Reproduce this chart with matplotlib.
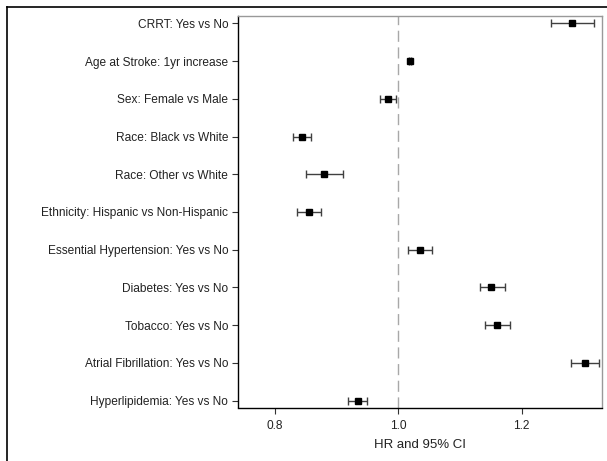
import matplotlib
matplotlib.use("Agg")
import matplotlib.pyplot as plt
from matplotlib.lines import Line2D

plt.rcParams['font.family'] = ['Liberation Sans', 'DejaVu Sans']

labels = [
    "CRRT: Yes vs No",
    "Age at Stroke: 1yr increase",
    "Sex: Female vs Male",
    "Race: Black vs White",
    "Race: Other vs White",
    "Ethnicity: Hispanic vs Non-Hispanic",
    "Essential Hypertension: Yes vs No",
    "Diabetes: Yes vs No",
    "Tobacco: Yes vs No",
    "Atrial Fibrillation: Yes vs No",
    "Hyperlipidemia: Yes vs No",
]
hr = [1.282, 1.019, 0.984, 0.844, 0.879, 0.855, 1.035, 1.151, 1.160, 1.303, 0.934]
lo = [1.247, 1.017, 0.970, 0.830, 0.850, 0.835, 1.015, 1.132, 1.141, 1.281, 0.918]
hi = [1.318, 1.021, 0.997, 0.858, 0.910, 0.875, 1.054, 1.173, 1.182, 1.325, 0.949]
xticks = [0.8, 1.0, 1.2]
xticklabels = ["0.8", "1.0", "1.2"]

W, H = 607, 461
fig = plt.figure(figsize=(W / 100, H / 100), dpi=100)
left, right, top, bottom = 238, 602, 16.5, 407.5
ax = fig.add_axes([left / W, 1 - bottom / H, (right - left) / W, (bottom - top) / H])

y = list(range(len(labels)))
xerr = [[h - l for h, l in zip(hr, lo)], [u - h for h, u in zip(hr, hi)]]
ax.axvline(1.0, color="#a8a8a8", lw=1.0, ls=(0, (8, 4)), zorder=1)
ax.errorbar(hr, y, xerr=xerr, fmt="s", color="black", ms=4.5,
            ecolor="#404040", elinewidth=1.0, capsize=3.0, capthick=1.0, zorder=3)

ax.set_xlim(0.74, 1.3305)
ax.set_ylim(len(labels) - 1 + 0.18, -0.18)
ax.set_yticks(y)
ax.set_yticklabels(labels)
ax.set_xticks(xticks)
ax.set_xticklabels(xticklabels)
ax.tick_params(axis="both", labelsize=8.6, length=4, width=0.8, color="#333333", labelcolor="#222222")
ax.tick_params(axis="y", pad=3)
ax.tick_params(axis="x", pad=5)
ax.set_xlabel("HR and 95% CI", fontsize=9.5, color="#222222", labelpad=5)

for s in ["left", "bottom"]:
    ax.spines[s].set_color("black")
    ax.spines[s].set_linewidth(1.0)
for s in ["top", "right"]:
    ax.spines[s].set_color("#999999")
    ax.spines[s].set_linewidth(1.0)

# outer frame lines (top and left)
fig.add_artist(Line2D([7 / W, 1.0], [1 - 7 / H, 1 - 7 / H], transform=fig.transFigure, color="black", lw=1.2))
fig.add_artist(Line2D([7 / W, 7 / W], [0.0, 1 - 7 / H], transform=fig.transFigure, color="black", lw=1.2))

fig.savefig("out.png", dpi=100)
